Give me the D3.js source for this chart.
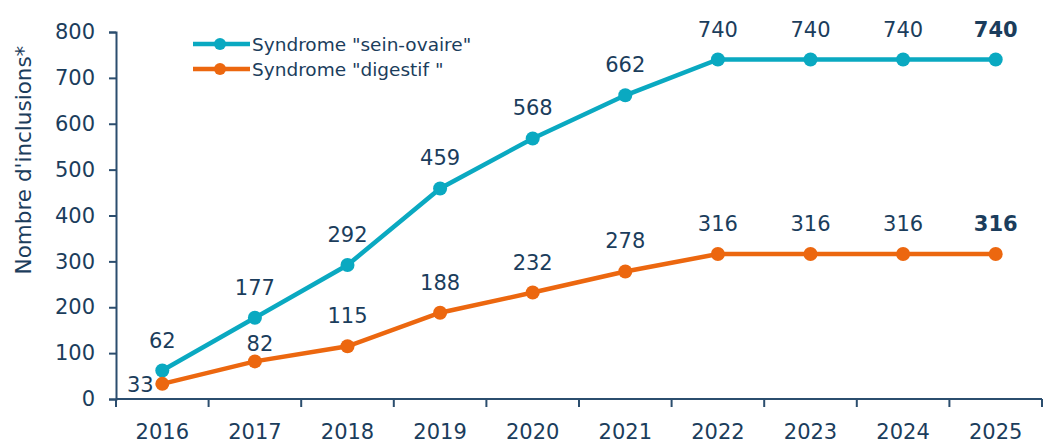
<!DOCTYPE html>
<html lang="fr">
<head>
<meta charset="UTF-8" />
<script src="https://d3js.org/d3.v7.min.js"></script>
<style>
  body { margin: 0; background: #fff; }
  svg text { font-family: 'DejaVu Sans', Verdana, sans-serif; fill: #1b3d5c; }
</style>
</head>
<body>
<div id="chart"></div>
<script>
const years = ["2016","2017","2018","2019","2020","2021","2022","2023","2024","2025"];
const seinOvaire = [62, 177, 292, 459, 568, 662, 740, 740, 740, 740];
const digestif = [33, 82, 115, 188, 232, 278, 316, 316, 316, 316];
const yTicks = [0, 100, 200, 300, 400, 500, 600, 700, 800];
const seriesNames = ['Syndrome "sein-ovaire"', 'Syndrome "digestif "'];
const colors = ["#0aa9c1", "#ec670f"];

const W = 1043, H = 443;
const margin = { top: 32, right: 1, bottom: 44, left: 116 };

const svg = d3.select("#chart").append("svg")
  .attr("width", W).attr("height", H);

const x = d3.scaleBand().domain(years).range([margin.left, W - margin.right]);
const y = d3.scaleLinear().domain([0, 800]).range([H - margin.bottom, margin.top]);
const axisColor = "#2b4d6e";

// y axis
const ya = svg.append("g")
  .attr("transform", `translate(${margin.left},0)`)
  .call(d3.axisLeft(y).tickValues(yTicks).tickSize(7).tickPadding(14));
ya.select(".domain").attr("stroke", axisColor).attr("stroke-width", 2);
ya.selectAll(".tick line").attr("stroke", axisColor).attr("stroke-width", 2);
ya.selectAll("text").style("font-size", "21px").attr("fill", "#1b3d5c");

// x axis: ticks at category boundaries
const xa = svg.append("g").attr("transform", `translate(0,${y(0)})`);
xa.append("line")
  .attr("x1", margin.left).attr("x2", W - margin.right)
  .attr("stroke", axisColor).attr("stroke-width", 2);
const bounds = years.map(d => x(d)).concat([x(years[years.length - 1]) + x.bandwidth()]);
xa.selectAll(".bt").data(bounds).enter().append("line")
  .attr("x1", d => d).attr("x2", d => d)
  .attr("y1", 0).attr("y2", 8)
  .attr("stroke", axisColor).attr("stroke-width", 2);
xa.selectAll(".lbl").data(years).enter().append("text")
  .attr("x", d => x(d) + x.bandwidth() / 2)
  .attr("y", 40)
  .attr("text-anchor", "middle")
  .style("font-size", "21px")
  .text(d => d);

// y title
svg.append("text")
  .attr("transform", `translate(31,160) rotate(-90)`)
  .attr("text-anchor", "middle")
  .style("font-size", "21.5px")
  .text("Nombre d'inclusions*");

const cx = d => x(d) + x.bandwidth() / 2;
const line = d3.line().x((d, i) => cx(years[i])).y(d => y(d));

[seinOvaire, digestif].forEach((vals, s) => {
  svg.append("path").datum(vals)
    .attr("d", line)
    .attr("fill", "none")
    .attr("stroke", colors[s])
    .attr("stroke-width", 4.5);
  svg.selectAll(".pt" + s).data(vals).enter().append("circle")
    .attr("cx", (d, i) => cx(years[i]))
    .attr("cy", d => y(d))
    .attr("r", 7)
    .attr("fill", colors[s]);
  svg.selectAll(".lb" + s).data(vals).enter().append("text")
    .attr("x", (d, i) => {
      if (s === 1 && i === 0) return cx(years[i]) - 22;
      if (s === 1 && i === 1) return cx(years[i]) + 5;
      return cx(years[i]);
    })
    .attr("y", (d, i) => {
      if (s === 1 && i === 0) return y(d) + 8;
      if (s === 1 && i === 1) return y(d) - 10;
      return y(d) - 23;
    })
    .attr("text-anchor", "middle")
    .style("font-size", "21px")
    .style("font-weight", (d, i) => i === years.length - 1 ? "bold" : "normal")
    .text(d => d);
});

// legend
const leg = svg.append("g");
seriesNames.forEach((name, s) => {
  const ly = 44 + s * 25;
  leg.append("line").attr("x1", 193).attr("x2", 250).attr("y1", ly).attr("y2", ly)
    .attr("stroke", colors[s]).attr("stroke-width", 4.5);
  leg.append("circle").attr("cx", 220).attr("cy", ly).attr("r", 6).attr("fill", colors[s]);
  leg.append("text").attr("x", 252).attr("y", ly + 7)
    .style("font-size", "18.5px").text(name);
});
</script>
</body>
</html>
